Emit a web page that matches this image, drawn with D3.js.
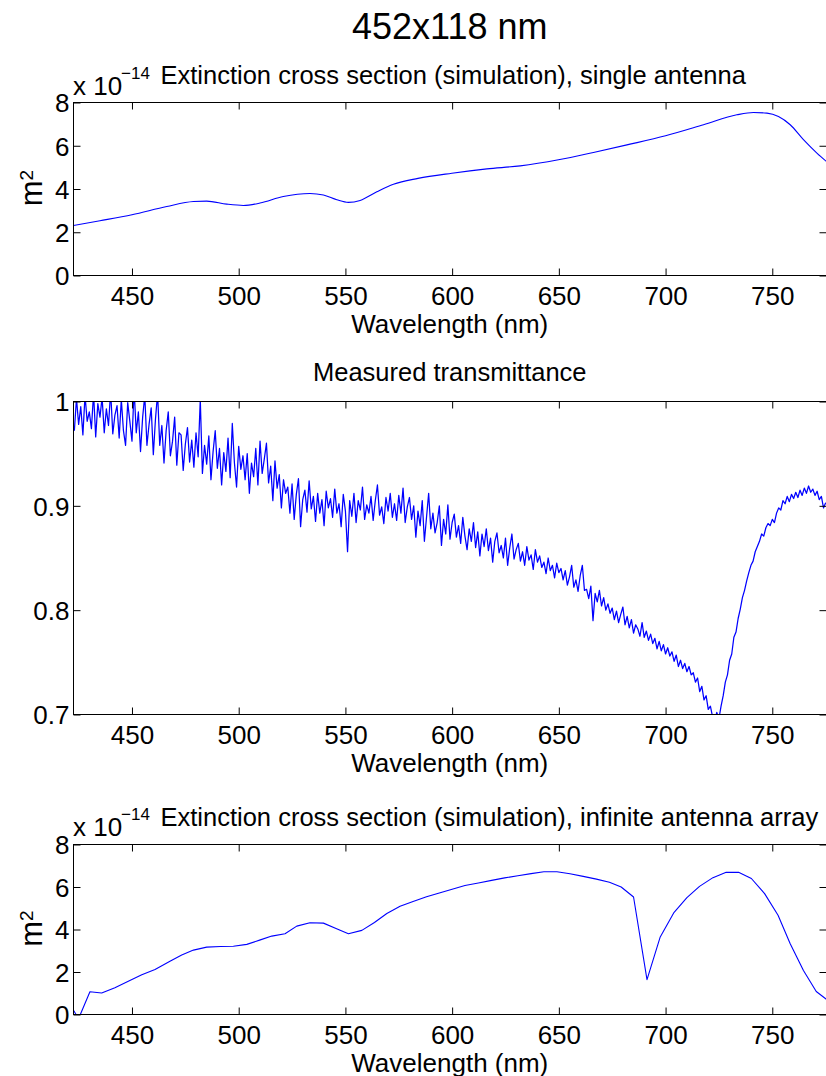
<!DOCTYPE html>
<html><head><meta charset="utf-8">
<script src="https://cdn.jsdelivr.net/npm/d3@7"></script>
<style>
html,body{margin:0;padding:0;background:#fff;}
svg{display:block;}
text{font-family:"Liberation Sans",Arial,Helvetica,sans-serif;fill:#000;}
</style></head>
<body>
<svg id="chart" width="826" height="1076"></svg>
<script>
// ---------- data ----------
const mainTitle = "452x118 nm";
const xLabel = "Wavelength (nm)";
const titles = ["Extinction cross section (simulation), single antenna",
                "Measured transmittance",
                "Extinction cross section (simulation), infinite antenna array"];
const xTicks = [450, 500, 550, 600, 650, 700, 750];
const yTicksCross = [0, 2, 4, 6, 8];
const yTicksTrans = [0.7, 0.8, 0.9, 1];

// Panel 1: single antenna (x 1e-14 m^2)
const singleWl = [422.6, 435.0, 450, 466.3, 478.8, 485, 494.4, 502.2, 510, 520.9, 533.4, 539.7, 546, 551.4, 556.9, 564.7, 572.5, 584, 599.9, 616.3, 631.9, 649.8, 666.2, 681.9, 700, 717.8, 733.4, 741.2, 747.5, 752.9, 758.4, 764.6, 770.9, 775.4];
const singleVal = [2.31, 2.53, 2.81, 3.19, 3.42, 3.44, 3.30, 3.24, 3.35, 3.65, 3.79, 3.72, 3.50, 3.38, 3.47, 3.87, 4.22, 4.49, 4.73, 4.93, 5.07, 5.35, 5.69, 6.04, 6.46, 6.97, 7.43, 7.54, 7.51, 7.35, 6.97, 6.28, 5.66, 5.27];

// Panel 2: measured transmittance, one sample per nm starting at 423 nm
const transStart = 423;
const transVal = [
0.972,1.003,0.978,0.995,0.968,1.006,0.981,0.990,0.974,1.008,
0.966,0.998,0.985,1.004,0.970,0.993,0.977,1.010,0.969,0.987,
0.996,0.965,1.002,0.972,0.958,0.999,0.981,0.962,1.012,0.970,
0.990,0.952,0.985,1.006,0.958,0.978,0.994,0.949,0.983,1.008,
0.958,0.977,0.941,0.972,0.990,0.948,0.962,0.985,0.939,0.970,
0.968,0.934,0.959,0.975,0.942,0.963,0.937,0.970,0.947,1.002,
0.931,0.958,0.940,0.967,0.925,0.952,0.972,0.936,0.955,0.920,
0.951,0.933,0.965,0.927,0.979,0.941,0.918,0.957,0.935,0.948,
0.925,0.950,0.912,0.941,0.928,0.955,0.920,0.962,0.931,0.945,
0.960,0.922,0.938,0.905,0.943,0.917,0.930,0.898,0.925,0.912,
0.918,0.893,0.921,0.887,0.911,0.926,0.880,0.906,0.915,0.894,
0.924,0.897,0.909,0.885,0.912,0.893,0.906,0.881,0.914,0.898,
0.907,0.889,0.916,0.893,0.902,0.880,0.911,0.895,0.856,0.905,
0.890,0.912,0.884,0.905,0.896,0.918,0.887,0.901,0.893,0.909,
0.886,0.905,0.920,0.891,0.899,0.883,0.908,0.895,0.912,0.889,
0.902,0.886,0.910,0.893,0.917,0.884,0.899,0.908,0.887,0.900,
0.870,0.895,0.881,0.905,0.866,0.889,0.912,0.878,0.893,0.874,
0.884,0.900,0.862,0.887,0.873,0.901,0.868,0.884,0.892,0.870,
0.881,0.864,0.889,0.871,0.858,0.878,0.866,0.884,0.860,0.875,
0.852,0.873,0.861,0.878,0.857,0.869,0.846,0.866,0.874,0.855,
0.862,0.850,0.869,0.843,0.860,0.873,0.849,0.858,0.864,0.847,
0.856,0.843,0.861,0.848,0.853,0.839,0.858,0.846,0.852,0.841,
0.846,0.835,0.850,0.838,0.843,0.831,0.845,0.836,0.840,0.829,
0.838,0.824,0.832,0.843,0.822,0.829,0.818,0.833,0.843,0.819,
0.820,0.811,0.823,0.790,0.816,0.808,0.819,0.804,0.812,0.800,
0.806,0.797,0.802,0.791,0.799,0.788,0.796,0.803,0.786,0.794,
0.783,0.791,0.778,0.786,0.782,0.775,0.788,0.774,0.780,0.771,
0.777,0.768,0.773,0.763,0.770,0.761,0.767,0.758,0.764,0.756,
0.760,0.751,0.757,0.746,0.752,0.744,0.749,0.741,0.746,0.738,
0.740,0.731,0.735,0.722,0.727,0.714,0.718,0.705,0.708,0.698,
0.694,0.702,0.696,0.708,0.718,0.731,0.738,0.752,0.758,0.774,
0.779,0.792,0.801,0.812,0.819,0.828,0.836,0.843,0.847,0.856,
0.861,0.866,0.873,0.871,0.879,0.883,0.881,0.887,0.884,0.893,
0.898,0.896,0.905,0.902,0.909,0.904,0.911,0.907,0.913,0.908,
0.915,0.910,0.917,0.912,0.919,0.913,0.916,0.910,0.914,0.906,
0.909,0.898,0.903];

// Panel 3: infinite antenna array (x 1e-14 m^2)
const arrayWl = [422.6, 423.8, 425.8, 430.3, 435.8, 442, 449, 454.6, 460.8, 467.8, 473.3, 478.8, 485, 491.5, 497.5, 503.8, 509.8, 515.5, 521.7, 527.2, 533.4, 539.7, 545.6, 551.4, 557.7, 563.6, 569.4, 575.6, 581.7, 588, 594, 600, 606, 612.3, 618.5, 624.6, 630.8, 637, 643, 649.1, 655.2, 661.4, 667.6, 673.7, 679.2, 685, 691.3, 697.5, 703.8, 710, 715.9, 722.2, 728.4, 734.2, 740.2, 746.4, 752.7, 758.4, 764.6, 770.6, 775.4];
const arrayVal = [0.2, 0, 0, 1.07, 1.01, 1.26, 1.60, 1.87, 2.12, 2.51, 2.80, 3.03, 3.17, 3.20, 3.21, 3.30, 3.50, 3.69, 3.80, 4.16, 4.32, 4.30, 4.05, 3.80, 3.96, 4.33, 4.75, 5.09, 5.32, 5.54, 5.72, 5.89, 6.07, 6.19, 6.31, 6.43, 6.53, 6.63, 6.72, 6.72, 6.62, 6.50, 6.37, 6.22, 6.00, 5.53, 1.64, 3.65, 4.78, 5.50, 6.03, 6.44, 6.69, 6.69, 6.40, 5.69, 4.67, 3.33, 2.07, 1.08, 0.71];

// ---------- drawing ----------
const svg = d3.select("#chart");
const FS = 26;
const TFS = 25.5;
const left = 73.5, right = 826.5;
const x = d3.scaleLinear().domain([422.6, 775.4]).range([left, right]);

svg.append("text").attr("x", 449.75).attr("y", 38.5).attr("text-anchor", "middle")
   .style("font-size", "36px").text(mainTitle);

const panels = [
  {top: 102.5, bottom: 275.5, domain: [0, 8], ticks: yTicksCross, fmt: d3.format("d"),
   data: singleWl.map((w, i) => [w, singleVal[i]]), curve: d3.curveMonotoneX,
   title: titles[0], titleY: 84, titleX: 160.5, anchor: "start", exp: true, expY: 94.5, ylabel: true},
  {top: 401.5, bottom: 714.5, domain: [0.7, 1], ticks: yTicksTrans, fmt: d => (d === 1 ? "1" : d3.format(".1f")(d)),
   data: transVal.map((v, i) => [transStart + i, v]), curve: d3.curveLinear,
   title: titles[1], titleY: 381, titleX: 449.75, anchor: "middle", exp: false, ylabel: false},
  {top: 844.5, bottom: 1014.5, domain: [0, 8], ticks: yTicksCross, fmt: d3.format("d"),
   data: arrayWl.map((w, i) => [w, arrayVal[i]]), curve: d3.curveLinear,
   title: titles[2], titleY: 826, titleX: 160.5, anchor: "start", exp: true, expY: 835.5, ylabel: true}
];

panels.forEach((p, pi) => {
  const y = d3.scaleLinear().domain(p.domain).range([p.bottom, p.top]);
  const g = svg.append("g");
  const clipId = "clip" + pi;
  svg.append("clipPath").attr("id", clipId).append("rect")
     .attr("x", left).attr("y", p.top).attr("width", right - left).attr("height", p.bottom - p.top);

  // data line
  const line = d3.line().x(d => x(d[0])).y(d => y(d[1])).curve(p.curve);
  g.append("path").datum(p.data).attr("d", line)
   .attr("clip-path", `url(#${clipId})`)
   .attr("fill", "none").attr("stroke", "#0000ff").attr("stroke-width", pi === 1 ? 1.25 : 1.1)
   .attr("stroke-linejoin", "round");

  // axes
  const ax = (gen, tr, lab) => {
    const a = g.append("g").attr("transform", tr).call(gen);
    a.select(".domain").remove();
    a.selectAll("line").attr("stroke", "#000").attr("stroke-width", 1);
    a.selectAll("text").style("font-size", FS + "px")
      .style("font-family", '"Liberation Sans",Arial,Helvetica,sans-serif').attr("fill", "#000");
    if (!lab) a.selectAll("text").remove();
    return a;
  };
  const xb = ax(d3.axisBottom(x).tickValues(xTicks).tickSize(-7).tickFormat(d3.format("d")),
     `translate(0,${p.bottom})`, true);
  xb.selectAll("text").attr("dy", null).attr("y", 29.5);
  ax(d3.axisTop(x).tickValues(xTicks).tickSize(-7), `translate(0,${p.top})`, false);
  const yl = ax(d3.axisLeft(y).tickValues(p.ticks).tickSize(-7).tickPadding(4).tickFormat(p.fmt),
     `translate(${left},0)`, true);
  yl.selectAll("text").attr("dy", "0.36em");
  ax(d3.axisRight(y).tickValues(p.ticks).tickSize(-7), `translate(${right},0)`, false);

  // box
  g.append("rect").attr("x", left).attr("y", p.top).attr("width", right - left)
   .attr("height", p.bottom - p.top).attr("fill", "none").attr("stroke", "#000").attr("stroke-width", 1);

  // titles
  g.append("text").attr("x", p.titleX).attr("y", p.titleY).attr("text-anchor", p.anchor)
   .style("font-size", TFS + "px").text(p.title);
  g.append("text").attr("x", 449.75).attr("y", p.bottom + 57).attr("text-anchor", "middle")
   .style("font-size", FS + "px").text(xLabel);

  if (p.exp) {
    g.append("text").attr("x", 73).attr("y", p.expY).style("font-size", FS + "px").text("x 10");
    g.append("text").attr("x", 121).attr("y", p.expY - 16).style("font-size", "17px").text("\u221214");
  }
  if (p.ylabel) {
    const cy = (p.top + p.bottom) / 2 - 1;
    const t = g.append("text").attr("transform", `translate(42,${cy}) rotate(-90)`)
      .attr("text-anchor", "middle").style("font-size", "31px");
    t.append("tspan").text("m");
    t.append("tspan").attr("dy", "-0.5em").style("font-size", "19px").text("2");
  }
});
</script>
</body></html>
